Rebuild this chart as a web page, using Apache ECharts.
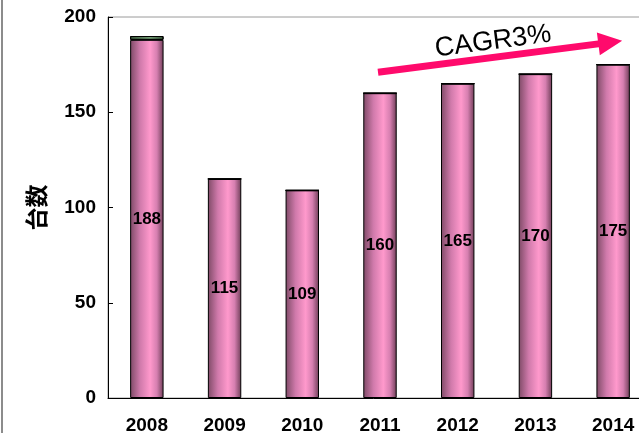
<!DOCTYPE html>
<html><head><meta charset="utf-8">
<script src="https://cdn.jsdelivr.net/npm/echarts@6/dist/echarts.min.js"></script>
<style>html,body{margin:0;padding:0;background:#fff}#c{width:639px;height:433px}</style>
</head><body><div id="c"></div>
<script>
const categories = ['2008','2009','2010','2011','2012','2013','2014'];
const mainValues = [188,115,109,160,165,170,175];
const capValues = [2,0,0,0,0,0,0];
const yTicks = [0,50,100,150,200];
const yAxisName = '台数';
const cagrText = 'CAGR3%';
const arrowFrom = ['2011',171];
const arrowTo = ['2014',187.5];

const chart = echarts.init(document.getElementById('c'));
const pinkGrad = new echarts.graphic.LinearGradient(0,0,1,0,[
  {offset:0,color:'#7e4a66'},{offset:0.3,color:'#d07aab'},{offset:0.6,color:'#ff99cc'},{offset:0.8,color:'#d67fb0'},{offset:1,color:'#6e3d57'}]);
const greenGrad = new echarts.graphic.LinearGradient(0,0,1,0,[
  {offset:0,color:'#3e5e40'},{offset:0.6,color:'#7fae80'},{offset:1,color:'#3a583c'}]);
const font = '"Liberation Sans", Arial, sans-serif';
chart.setOption({
  animation:false,
  grid:{left:108,top:17,width:544,height:381,show:true,borderColor:'#9a9a9a',borderWidth:1,containLabel:false,outerBoundsMode:'none'},
  xAxis:{type:'category',data:categories,
    axisLine:{lineStyle:{color:'#000',width:1}},
    axisTick:{inside:true,length:5,lineStyle:{color:'#000'},alignWithLabel:false},
    axisLabel:{color:'#000',fontSize:19,fontWeight:'bold',fontFamily:font,margin:18}},
  yAxis:{type:'value',min:yTicks[0],max:yTicks[yTicks.length-1],interval:50,
    name:yAxisName,nameLocation:'middle',nameGap:60,nameRotate:90,
    nameTextStyle:{color:'#000',fontSize:23,fontWeight:'bold',fontFamily:'"Noto Sans CJK JP", sans-serif'},
    axisLine:{show:true,lineStyle:{color:'#000',width:1}},
    axisTick:{show:true,inside:true,length:5,lineStyle:{color:'#000'}},
    splitLine:{show:false},
    axisLabel:{color:'#000',fontSize:19,fontWeight:'bold',fontFamily:font,margin:12}},
  series:[
    {type:'bar',stack:'a',data:mainValues,barWidth:'43%',
     itemStyle:{color:pinkGrad,borderColor:'#000',borderWidth:1},
     label:{show:true,position:'inside',color:'#000',fontSize:17,fontWeight:'bold',fontFamily:font}},
    {type:'bar',stack:'a',data:capValues,barWidth:'43%',
     itemStyle:{color:greenGrad,borderColor:'#000',borderWidth:1}}
  ]
});
const p0raw = chart.convertToPixel({gridIndex:0},arrowFrom);
const p0 = [p0raw[0]-2,p0raw[1]];
const p1raw = chart.convertToPixel({gridIndex:0},arrowTo);
const p1 = [p1raw[0]+9,p1raw[1]];
const dx=p1[0]-p0[0], dy=p1[1]-p0[1], L=Math.hypot(dx,dy);
const ux=dx/L, uy=dy/L, nx=-uy, ny=ux;
const hw=3.5, headL=24, headW=11.5;
const b=[p1[0]-ux*headL,p1[1]-uy*headL];
const pts=[
  [p0[0]+nx*hw,p0[1]+ny*hw],[b[0]+nx*hw,b[1]+ny*hw],[b[0]+nx*headW,b[1]+ny*headW],
  p1,[b[0]-nx*headW,b[1]-ny*headW],[b[0]-nx*hw,b[1]-ny*hw],[p0[0]-nx*hw,p0[1]-ny*hw]];
const ang=Math.atan2(-dy,dx);
const mid=[(p0[0]+p1[0])/2 - 7,(p0[1]+p1[1])/2 - 15];
chart.setOption({graphic:[
  {type:'rect',left:1,top:0,shape:{width:2,height:433},style:{fill:'#8c8c8c'}},
  {type:'polygon',shape:{points:pts},style:{fill:'#ff0a6c'}},
  {type:'text',x:mid[0],y:mid[1],rotation:ang,
   style:{text:cagrText,fill:'#000',font:'27px "Liberation Sans", Arial, sans-serif',align:'center',verticalAlign:'middle'}}
]});
</script></body></html>
